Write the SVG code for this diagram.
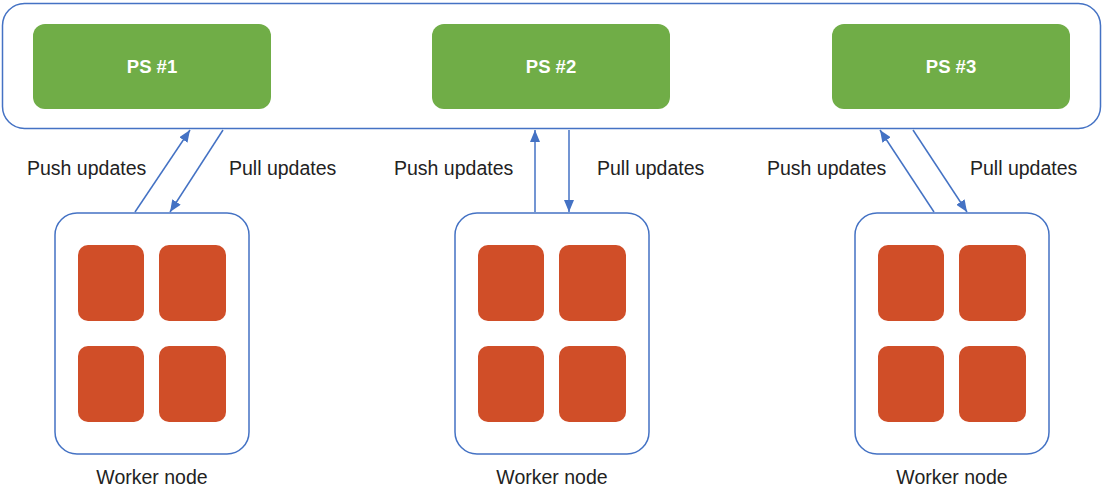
<svg xmlns="http://www.w3.org/2000/svg" width="1103" height="486" viewBox="0 0 1103 486">
<style>
.frame{fill:#fff;stroke:#4472C4;stroke-width:1.5}
.ps{fill:#70AD47}
.core{fill:#D04E28}
.pst{font-family:"Liberation Sans",Arial,sans-serif;font-size:18.5px;font-weight:bold;fill:#fff;text-anchor:middle}
.lbl{font-family:"Liberation Sans",Arial,sans-serif;font-size:19.5px;fill:#222}
.mid{text-anchor:middle}
.conn line{stroke:#4472C4;stroke-width:1.5}
</style>
<defs>
<marker id="ah" viewBox="0 0 12 10" refX="12" refY="5" markerWidth="12" markerHeight="10" markerUnits="userSpaceOnUse" orient="auto">
<path d="M0,0 L12,5 L0,10 z" fill="#4472C4"/>
</marker>
</defs>
<g id="ps-container">
<rect class="frame" x="2.5" y="3.5" width="1098" height="125" rx="22"/>
</g>
<g id="ps1"><rect class="ps" x="33" y="24" width="238" height="85" rx="12"/><text class="pst" x="152" y="73">PS #1</text></g>
<g id="ps2"><rect class="ps" x="432" y="24" width="238" height="85" rx="12"/><text class="pst" x="551" y="73">PS #2</text></g>
<g id="ps3"><rect class="ps" x="832" y="24" width="238" height="85" rx="12"/><text class="pst" x="951" y="73">PS #3</text></g>
<g id="worker1">
<rect class="frame" x="55" y="213" width="194" height="241" rx="22"/>
<rect class="core" x="78" y="245" width="66" height="76" rx="10"/>
<rect class="core" x="159" y="245" width="67" height="76" rx="10"/>
<rect class="core" x="78" y="346" width="66" height="76" rx="10"/>
<rect class="core" x="159" y="346" width="67" height="76" rx="10"/>
<text class="lbl mid" x="152" y="484">Worker node</text>
</g>
<g id="worker2">
<rect class="frame" x="455" y="213" width="194" height="241" rx="22"/>
<rect class="core" x="478" y="245" width="66" height="76" rx="10"/>
<rect class="core" x="559" y="245" width="67" height="76" rx="10"/>
<rect class="core" x="478" y="346" width="66" height="76" rx="10"/>
<rect class="core" x="559" y="346" width="67" height="76" rx="10"/>
<text class="lbl mid" x="552" y="484">Worker node</text>
</g>
<g id="worker3">
<rect class="frame" x="855" y="213" width="194" height="241" rx="22"/>
<rect class="core" x="878" y="245" width="66" height="76" rx="10"/>
<rect class="core" x="959" y="245" width="67" height="76" rx="10"/>
<rect class="core" x="878" y="346" width="66" height="76" rx="10"/>
<rect class="core" x="959" y="346" width="67" height="76" rx="10"/>
<text class="lbl mid" x="952" y="484">Worker node</text>
</g>
<g id="connectors" class="conn">
<line x1="135" y1="212" x2="190" y2="130" marker-end="url(#ah)"/>
<line x1="223" y1="130" x2="170" y2="212" marker-end="url(#ah)"/>
<line x1="535" y1="212" x2="535" y2="130" marker-end="url(#ah)"/>
<line x1="569" y1="130" x2="569" y2="212" marker-end="url(#ah)"/>
<line x1="934" y1="212" x2="880" y2="130" marker-end="url(#ah)"/>
<line x1="913" y1="130" x2="967" y2="212" marker-end="url(#ah)"/>
</g>
<g id="labels">
<text class="lbl" x="27" y="175">Push updates</text>
<text class="lbl" x="229" y="175">Pull updates</text>
<text class="lbl" x="394" y="175">Push updates</text>
<text class="lbl" x="597" y="175">Pull updates</text>
<text class="lbl" x="767" y="175">Push updates</text>
<text class="lbl" x="970" y="175">Pull updates</text>
</g>
</svg>
